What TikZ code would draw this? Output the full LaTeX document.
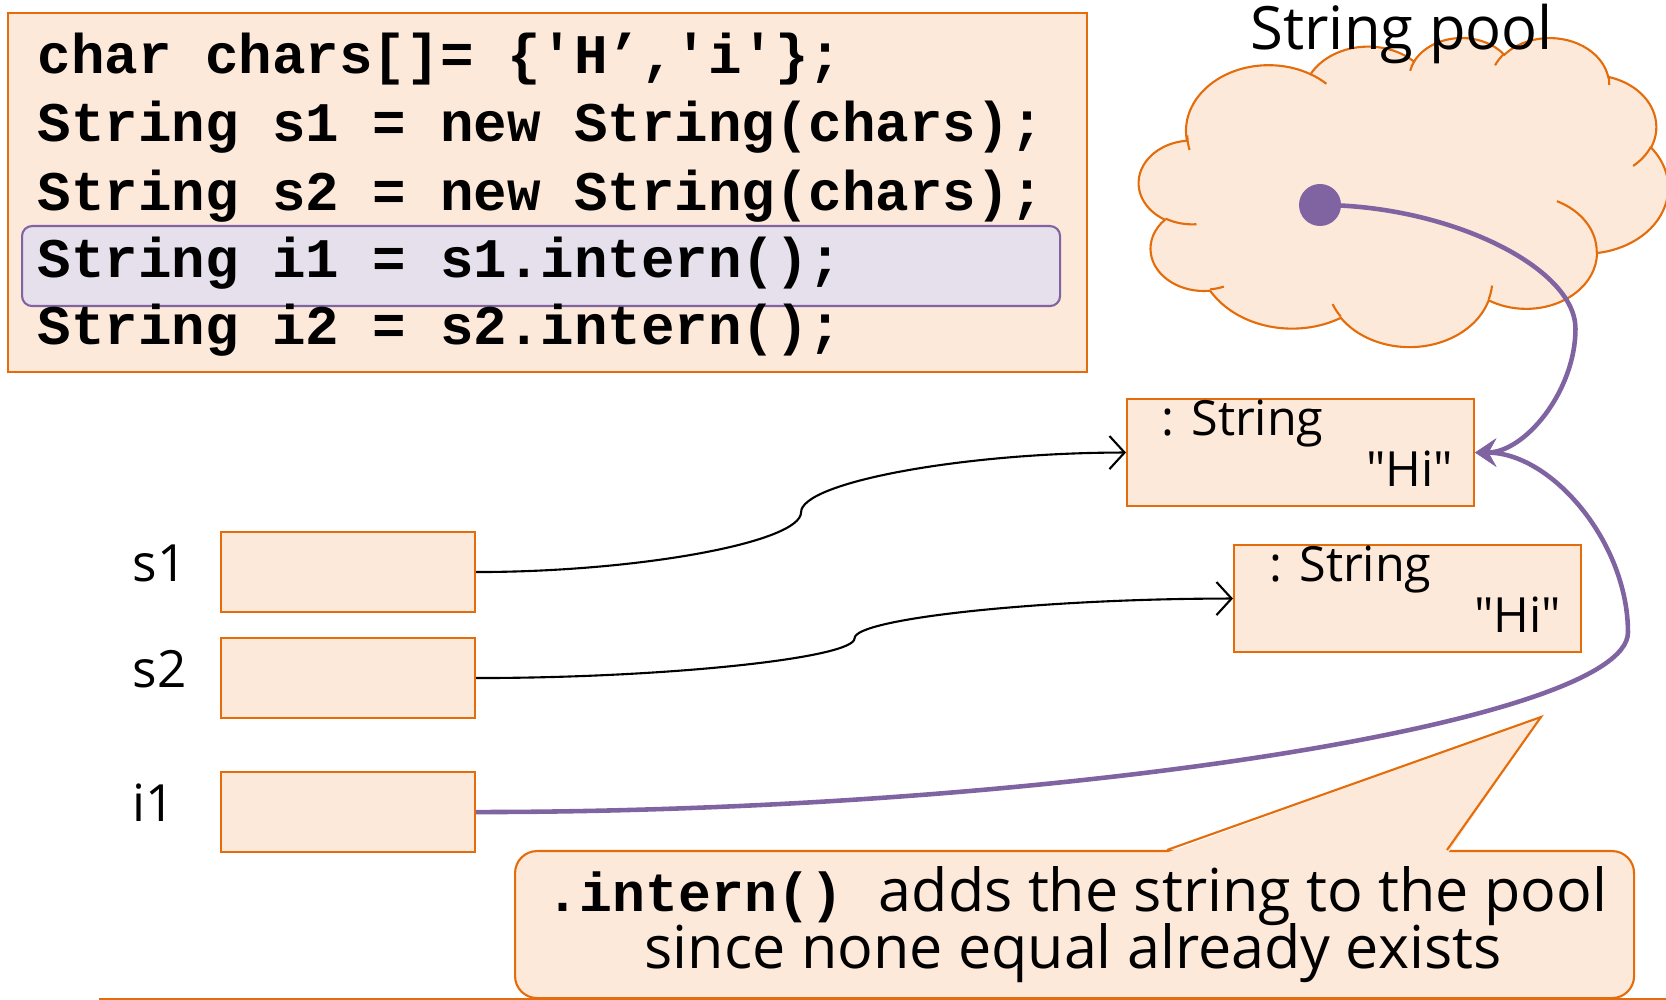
\documentclass[tikz,border=0pt]{standalone}
\usepackage{fontspec}
\setmainfont{Open Sans}
\newfontfamily\codefont{Liberation Mono}[Ligatures=TeXOff]
\usetikzlibrary{calc,arrows.meta}

\definecolor{peach}{HTML}{FDE9D9}
\definecolor{rim}{HTML}{E46C0A}
\definecolor{plum}{HTML}{8064A2}
\definecolor{lilac}{HTML}{E5E0EC}

% one puff of the cloud outline: x radius, y radius, start and sweep angle
% (angles measured towards the ray through the ellipse, converted to parametric ones)
\newcommand\puff[4]{arc[x radius=#1, y radius=#2,
  start angle={atan2(#1*sin(#3),#2*cos(#3))},
  delta angle={mod(atan2(#1*sin(#3+#4),#2*cos(#3+#4))-atan2(#1*sin(#3),#2*cos(#3))+720,360)}]}

\tikzset{
  boxline/.style={draw=rim, fill=peach, line width=0.6pt, inner sep=0pt, anchor=north west},
  codebox/.style={boxline, minimum width=10.79cm, minimum height=3.59cm},
  hlbox/.style={draw=plum, fill=lilac, line width=0.6pt, rounded corners=0.1cm, inner sep=0pt,
    anchor=north west, minimum width=10.38cm, minimum height=0.80cm},
  codeline/.style={anchor=base west, inner sep=0pt, font=\codefont\bfseries\fontsize{15.9}{18}\selectfont},
  slot/.style={boxline, minimum width=2.54cm, minimum height=0.80cm},
  objbox/.style={boxline, minimum width=3.47cm, minimum height=1.07cm},
  varname/.style={anchor=base west, inner sep=0pt, font=\fontsize{14.6}{17}\selectfont},
  objtext/.style={inner sep=0pt, font=\fontsize{13.8}{16}\selectfont},
  titletext/.style={anchor=base west, inner sep=0pt, font=\fontsize{17}{20}\selectfont},
  calltext/.style={anchor=base, inner sep=0pt, font=\fontsize{16.85}{20}\selectfont},
  callbody/.style={draw=rim, fill=peach, line width=0.6pt, rounded corners=0.22cm, inner sep=0pt,
    anchor=north west, minimum width=11.19cm, minimum height=1.47cm},
  cloudline/.style={draw=rim, line width=0.6pt},
  dotstyle/.style={circle, fill=plum, inner sep=0pt, minimum size=0.42cm},
  objlink/.style={draw=black, line width=0.6pt, -{Straight Barb[length=4.3pt,width=9.4pt]}},
  poollink/.style={draw=plum, line width=1.3pt, -{Stealth[length=6pt,width=8pt,inset=2.2pt]}},
  % curved elbow connector: leaves and enters horizontally, turning at a fraction #1 of the width
  curveconn/.style={to path={
    let \p1=(\tikztostart), \p2=(\tikztotarget), \n1={#1*(\x2-\x1)} in
    .. controls ({\x1+0.5*\n1},\y1) and ({\x1+\n1},{\y1+0.25*(\y2-\y1)})
    .. ({\x1+\n1},{0.5*(\y1+\y2)})
    .. controls ({\x1+\n1},{\y1+0.75*(\y2-\y1)}) and ({0.5*(\x1+\x2+\n1)},\y2)
    .. (\tikztotarget) \tikztonodes}},
  curveconn/.default=0.5
}

\begin{document}
\begin{tikzpicture}
\useasboundingbox (0,0) rectangle (16.66,-10);

% code listing
\node[codebox] (code) at (0.07,-0.12) {};
\node[hlbox] (hl) at (0.21,-2.25) {};
\node[codeline] (c1) at (0.37,-0.737) {char chars[]= \{'H’,'i'\};};
\node[codeline] (c2) at (0.37,-1.420) {String s1 = new String(chars);};
\node[codeline] (c3) at (0.37,-2.103) {String s2 = new String(chars);};
\node[codeline] (c4) at (0.37,-2.780) {String i1 = s1.intern();};
\node[codeline] (c5) at (0.37,-3.447) {String i2 = s2.intern();};

% the string pool cloud
\begin{scope}[shift={(11.39,-0.37)}, xscale=0.122454, yscale=-0.0715278]
  \path[cloudline, fill=peach] (3.900,14.370)
    \puff{6.753}{9.190}{-190.4875}{123.7805}
    \puff{5.333}{7.267}{-144.1024}{89.9452}
    \puff{4.365}{5.945}{-145.8079}{99.7230}
    \puff{4.857}{6.595}{-130.9861}{117.2417}
    \puff{5.333}{7.273}{-78.7089}{109.0269}
    \puff{6.775}{9.220}{-46.2673}{130.2690}
    \puff{5.785}{7.867}{0.6250}{114.0333}
    \puff{6.752}{9.215}{22.4516}{115.1726}
    \puff{7.720}{10.543}{66.2426}{75.7110}
    \puff{4.360}{5.918}{-274.9421}{146.7356}
    \puff{4.345}{5.945}{-246.8285}{152.5189}
    -- cycle;
  \path[cloudline]
    (4.693,26.177) \puff{4.345}{5.945}{86.7420}{26.4295}
    (6.928,34.899) \puff{4.360}{5.918}{73.6105}{11.4475}
    (16.478,39.090) \puff{6.752}{9.215}{137.6242}{14.0811}
    (28.827,34.751) \puff{6.752}{9.215}{6.4533}{15.9984}
    (34.129,22.954) \puff{5.785}{7.867}{-70.2924}{70.9174}
    (41.798,15.354) \puff{5.333}{7.273}{30.3180}{27.7515}
    (38.324,5.426) \puff{4.857}{6.595}{-13.7443}{14.8589}
    (29.078,3.952) \puff{4.857}{6.595}{-149.1815}{18.1954}
    (22.141,4.720) \puff{4.365}{5.945}{-163.4943}{17.6864}
    (14.000,5.192) \puff{6.753}{9.190}{-66.7070}{12.3194}
    (4.127,15.789) \puff{6.753}{9.190}{162.0372}{17.1527};
\end{scope}
\node[dotstyle] (pooldot) at (13.20,-2.05) {};
\node[titletext] (pooltitle) at (12.50,-0.50) {String pool};

% string objects
\node[objbox] (objA) at (11.26,-3.98) {};
\node[objtext, anchor=base west] (objAtype) at (11.61,-4.36) {: String};
\node[objtext, anchor=base east] (objAval) at (14.54,-4.87) {\textquotedbl Hi\textquotedbl};
\node[objbox] (objB) at (12.33,-5.44) {};
\node[objtext, anchor=base west] (objBtype) at (12.69,-5.817) {: String};
\node[objtext, anchor=base east] (objBval) at (15.62,-6.33) {\textquotedbl Hi\textquotedbl};

% reference variables
\node[slot] (s1) at (2.20,-5.31) {};
\node[slot] (s2) at (2.20,-6.37) {};
\node[slot] (i1) at (2.20,-7.71) {};
\node[varname] (s1name) at (1.32,-5.817) {s1};
\node[varname] (s2name) at (1.32,-6.88) {s2};
\node[varname] (i1name) at (1.32,-8.217) {i1};

% references
\draw[objlink] (s1.east) to[curveconn] (objA.west);
\draw[objlink] (s2.east) to[curveconn] (objB.west);
\draw[poollink] (pooldot.center) to[curveconn=1.647] (objA.east);
\draw[poollink] (i1.east) to[curveconn=1.153] (objA.east);

% callout
\node[callbody] (callout) at (5.14,-8.50) {};
\coordinate (tipL) at (11.67,-8.50);
\coordinate (tipR) at (14.47,-8.50);
\coordinate (tip) at (15.41,-7.17);
\fill[peach] ($(tipL)+(-0.01,-0.03)$) -- (tip) -- ($(tipR)+(0.01,-0.03)$) -- cycle;
\draw[rim, line width=0.6pt, line join=miter] (tipL) -- (tip) -- (tipR);
\node[calltext] (note1) at (10.77,-9.117)
  {{\codefont\bfseries\fontsize{15.6}{18}\selectfont .intern()}\hspace*{0.36cm}adds the string to the pool};
\node[calltext] (note2) at (10.73,-9.68) {since none equal already exists};

% footer rule
\coordinate (ruleL) at (0.99,-9.99);
\coordinate (ruleR) at (16.66,-9.99);
\draw[rim, line width=0.6pt] (ruleL) -- (ruleR);
\end{tikzpicture}
\end{document}
